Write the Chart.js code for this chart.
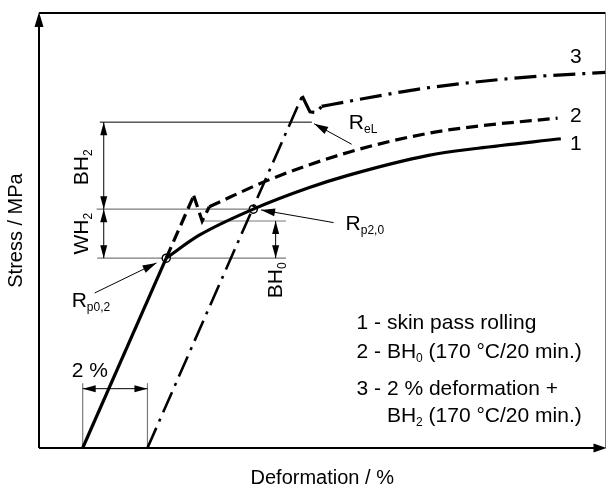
<!DOCTYPE html>
<html>
<head>
<meta charset="utf-8">
<script src="https://cdn.jsdelivr.net/npm/chart.js@4.4.1/dist/chart.umd.min.js"></script>
<style>
  html, body { margin: 0; padding: 0; background: #fff; }
  #wrap { width: 611px; height: 486px; position: relative; }
</style>
</head>
<body>
<div id="wrap"><canvas id="chart"></canvas></div>
<script>
// Schematic stress-strain curves: skin passed, bake hardened (BH0),
// and 2 % pre-strained + bake hardened (BH2)
const X_MAX = 17.5;   // deformation, %
const Y_MAX = 550;    // stress, MPa

// curve 1 - skin pass rolling
const c1Elastic = [[1.35, 0], [3.93, 240]];
const c1Plastic = [[3.93, 240], [4.95, 269], [6.62, 302], [8.33, 329], [9.57, 345], [12.03, 370], [13.56, 379], [16.12, 391]];
// curve 2 - BH0
const c2Elastic = [[3.93, 240], [4.78, 319]];
const c2Yield   = [[4.78, 319], [5.04, 287], [5.26, 305]];
const c2Plastic = [[5.26, 305], [7.10, 339], [9.57, 374], [12.03, 398], [13.56, 407], [16.02, 417]];
// curve 3 - 2 % deformation + BH2
const c3Elastic = [[3.35, 0], [8.13, 445]];
const c3Yield   = [[8.13, 445], [8.37, 425], [8.58, 424], [8.73, 432]];
const c3Plastic = [[8.73, 432], [9.66, 439], [11.01, 449], [11.93, 455], [14.79, 468], [17.5, 475]];

// characteristic points / levels
const rp02 = [3.93, 240];
const rp20 = [6.62, 302];
const bh0Level = 287;
const reLevel = 412;
const preStrain = [1.35, 3.35];   // 2 % offset between curve 1 and curve 3

const FONT = '"Liberation Sans", Arial, Helvetica, sans-serif';
const GREY = '#7a7a7a';

const legendLines = [
  ['1 - skin pass rolling'],
  ['2 - BH', { sub: '0' }, ' (170 °C/20 min.)'],
  ['3 - 2 % deformation +'],
  ['BH', { sub: '2' }, ' (170 °C/20 min.)'],
];
const legendX = 9.81;
const legendY = [150.5, 113.8, 67, 32.9];

const curveNumbers = [['1', 16.4, 377], ['2', 16.4, 412], ['3', 16.4, 487]];

function setFont(ctx, size) { ctx.font = `${size}px ${FONT}`; }

// draws text with small lowered subscripts, returns its width
function drawRich(ctx, parts, x, y, size, measureOnly) {
  let cx = x;
  for (const p of parts) {
    const sub = typeof p !== 'string';
    const t = sub ? p.sub : p;
    setFont(ctx, sub ? Math.round(size * 0.55) : size);
    if (!measureOnly) ctx.fillText(t, cx, sub ? y + size * 0.2 : y);
    cx += ctx.measureText(t).width;
  }
  return cx - x;
}

function drawRotated(ctx, parts, cx, cy, size) {
  const w = drawRich(ctx, parts, 0, 0, size, true);
  ctx.save();
  ctx.translate(cx, cy);
  ctx.rotate(-Math.PI / 2);
  drawRich(ctx, parts, -w / 2, 0, size);
  ctx.restore();
}

function arrowHead(ctx, tx, ty, fx, fy, len = 13, half = 3.5) {
  const a = Math.atan2(ty - fy, tx - fx);
  const bx = tx - len * Math.cos(a), by = ty - len * Math.sin(a);
  ctx.beginPath();
  ctx.moveTo(tx, ty);
  ctx.lineTo(bx + half * Math.sin(a), by - half * Math.cos(a));
  ctx.lineTo(bx - half * Math.sin(a), by + half * Math.cos(a));
  ctx.closePath();
  ctx.fill();
}

function segment(ctx, x1, y1, x2, y2, color, width) {
  ctx.strokeStyle = color;
  ctx.lineWidth = width;
  ctx.beginPath();
  ctx.moveTo(x1, y1);
  ctx.lineTo(x2, y2);
  ctx.stroke();
}

// line with arrowheads on both ends
function dimension(ctx, x1, y1, x2, y2) {
  segment(ctx, x1, y1, x2, y2, '#000', 1);
  arrowHead(ctx, x1, y1, x2, y2);
  arrowHead(ctx, x2, y2, x1, y1);
}

function leader(ctx, fx, fy, tx, ty) {
  segment(ctx, fx, fy, tx, ty, '#000', 1);
  arrowHead(ctx, tx, ty, fx, fy, 14, 4);
}

const diagramPlugin = {
  id: 'diagram',
  beforeDatasetsDraw(chart) {
    const { ctx, chartArea: ca, scales: { x, y } } = chart;
    const px = v => x.getPixelForValue(v);
    const py = v => y.getPixelForValue(v);
    ctx.save();
    ctx.fillStyle = '#000';

    // frame and axes
    segment(ctx, ca.left, ca.top, ca.right, ca.top, '#000', 2);
    segment(ctx, ca.right, ca.top, ca.right, ca.bottom, GREY, 1);
    segment(ctx, ca.left, ca.bottom, ca.left, ca.top + 10, '#000', 2);
    segment(ctx, ca.left, ca.bottom, ca.right - 8, ca.bottom, '#000', 2);
    arrowHead(ctx, ca.left, ca.top - 1, ca.left, ca.bottom, 15, 4.5);
    arrowHead(ctx, ca.right + 1, ca.bottom, ca.left, ca.bottom, 13, 4.5);

    // reference levels
    segment(ctx, px(1.88), py(reLevel), px(8.43), py(reLevel), '#000', 1);
    segment(ctx, px(1.78), py(rp20[1]), px(rp20[0]), py(rp20[1]), GREY, 1.2);
    segment(ctx, px(1.8), py(rp02[1]), px(7.63), py(rp02[1]), GREY, 1.2);
    segment(ctx, px(5.04), py(bh0Level), px(7.63), py(bh0Level), GREY, 1.2);

    // BH2 / WH2 / BH0 dimensions
    dimension(ctx, px(2.0), py(reLevel), px(2.0), py(rp20[1]));
    dimension(ctx, px(2.0), py(rp20[1]), px(2.0), py(rp02[1]));
    dimension(ctx, px(7.31), py(bh0Level), px(7.31), py(rp02[1]));

    // 2 % pre-strain
    segment(ctx, px(preStrain[0]), py(0), px(preStrain[0]), py(82), GREY, 1.2);
    segment(ctx, px(preStrain[1]), py(0), px(preStrain[1]), py(82), GREY, 1.2);
    dimension(ctx, px(preStrain[0]), py(75), px(preStrain[1]), py(75));

    // leaders to characteristic points
    leader(ctx, px(9.66), py(384), px(8.5), py(410));
    leader(ctx, px(9.10), py(285), px(6.86), py(301));
    leader(ctx, px(1.72), py(196), px(3.63), py(234));

    // labels
    ctx.textBaseline = 'alphabetic';
    ctx.textAlign = 'left';
    drawRich(ctx, ['R', { sub: 'eL' }], px(9.57), py(403), 21);
    drawRich(ctx, ['R', { sub: 'p2,0' }], px(9.47), py(275.6), 21);
    drawRich(ctx, ['R', { sub: 'p0,2' }], px(1.01), py(178.3), 21);
    drawRich(ctx, ['2 %'], px(1.01), py(89.8), 21);

    drawRotated(ctx, ['BH', { sub: '2' }], px(1.51), py(355), 21);
    drawRotated(ctx, ['WH', { sub: '2' }], px(1.51), py(271), 21);
    drawRotated(ctx, ['BH', { sub: '0' }], px(7.5), py(212), 21);

    curveNumbers.forEach(([t, vx, vy]) => drawRich(ctx, [t], px(vx), py(vy), 21));

    const indent = drawRich(ctx, ['3 - '], 0, 0, 21, true);
    legendLines.forEach((parts, i) => {
      drawRich(ctx, parts, px(legendX) + (i === 3 ? indent : 0), py(legendY[i]), 21);
    });

    // axis titles
    drawRotated(ctx, ['Stress / MPa'], ca.left - 17, (ca.top + ca.bottom) / 2, 20);
    const tw = drawRich(ctx, ['Deformation / %'], 0, 0, 20, true);
    drawRich(ctx, ['Deformation / %'], (ca.left + ca.right) / 2 - tw / 2, ca.bottom + 36, 20);

    ctx.restore();
  }
};

function curve(points, opts) {
  return Object.assign({
    data: points.map(([x, y]) => ({ x, y })),
    showLine: true,
    pointRadius: 0,
    borderColor: '#000',
    borderWidth: 3.2,
    borderCapStyle: 'butt',
    fill: false,
  }, opts);
}

const DASH = [12, 6];
const DASH_DOT = [22, 7, 3, 7];

new Chart(document.getElementById('chart'), {
  type: 'scatter',
  data: {
    datasets: [
      curve(c3Elastic, { borderDash: DASH_DOT, borderWidth: 2.6 }),
      curve(c3Yield,   { borderDash: DASH_DOT }),
      curve(c3Plastic, { borderDash: DASH_DOT, cubicInterpolationMode: 'monotone' }),
      curve(c2Elastic, { borderDash: DASH }),
      curve(c2Yield,   { borderDash: DASH }),
      curve(c2Plastic, { borderDash: DASH, cubicInterpolationMode: 'monotone' }),
      curve(c1Elastic, {}),
      curve(c1Plastic, { cubicInterpolationMode: 'monotone' }),
      {
        data: [rp02, rp20].map(([x, y]) => ({ x, y })),
        showLine: false,
        pointRadius: 4,
        pointBackgroundColor: '#fff',
        pointBorderColor: '#000',
        pointBorderWidth: 1.5,
      },
    ],
  },
  options: {
    animation: false,
    responsive: true,
    maintainAspectRatio: false,
    events: [],
    layout: { padding: { left: 39, right: 3, top: 13, bottom: 38 } },
    plugins: { legend: { display: false }, tooltip: { enabled: false } },
    scales: {
      x: { type: 'linear', min: 0, max: X_MAX, display: false },
      y: { type: 'linear', min: 0, max: Y_MAX, display: false },
    },
  },
  plugins: [diagramPlugin],
});
</script>
</body>
</html>
